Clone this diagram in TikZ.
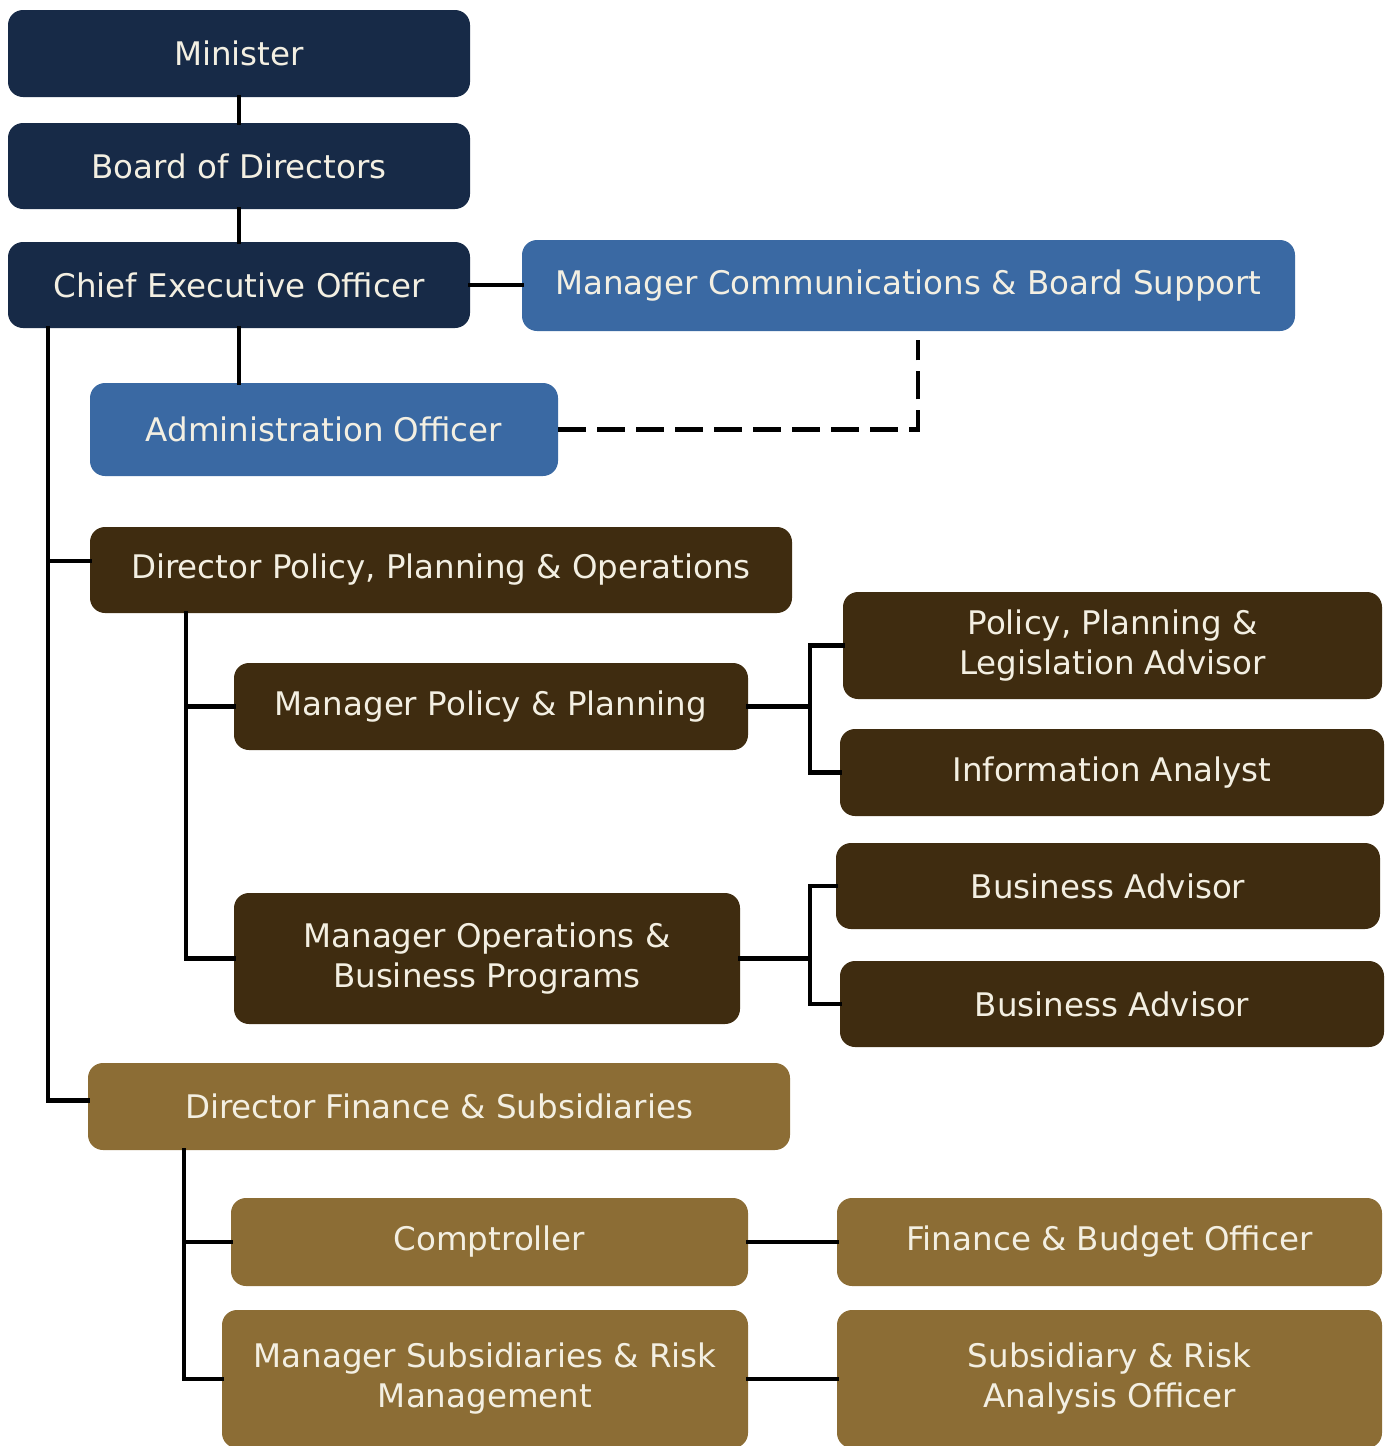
\documentclass[tikz,border=0pt]{standalone}
\usepackage{fontspec}
\setmainfont{DejaVu Sans}
\definecolor{navy}{HTML}{172A47}
\definecolor{bluebx}{HTML}{3A69A3}
\definecolor{brownbx}{HTML}{3F2C10}
\definecolor{goldbx}{HTML}{8C6D35}
\definecolor{txt}{HTML}{F3EFE2}
\begin{document}
\begin{tikzpicture}[x=1pt,y=-1pt,
  box/.style={rounded corners=15pt, draw=none, text=txt, align=center, inner sep=0pt,
    font=\fontsize{32.5}{40}\selectfont},
  conn/.style={line width=4.5pt, line cap=rect},
  dashconn/.style={line width=4.5pt, dash pattern=on 28pt off 11pt}]
\useasboundingbox (0,0) rectangle (1389,1446);
\node[box, fill=navy, minimum width=462pt, minimum height=87pt] (min) at (239,53.5) {Minister};
\node[box, fill=navy, minimum width=462pt, minimum height=86pt] (bod) at (239,166) {Board of Directors};
\node[box, fill=navy, minimum width=462pt, minimum height=86pt] (ceo) at (239,285) {Chief Executive Officer};
\node[box, fill=bluebx, minimum width=773pt, minimum height=91pt] (mcb) at (908.5,285.5) {Manager Communications \& Board Support};
\node[box, fill=bluebx, minimum width=468pt, minimum height=93pt] (adm) at (324,429.5) {Administration Officer};
\node[box, fill=brownbx, minimum width=702pt, minimum height=86pt] (dpp) at (441,570) {Director Policy, Planning \& Operations};
\node[box, fill=brownbx, minimum width=539pt, minimum height=107pt] (ppl) at (1112.5,645.5) {Policy, Planning \&\\Legislation Advisor};
\node[box, fill=brownbx, minimum width=514pt, minimum height=87pt] (mpp) at (491,706.5) {Manager Policy \& Planning};
\node[box, fill=brownbx, minimum width=544pt, minimum height=87pt] (ia) at (1112,772.5) {Information Analyst};
\node[box, fill=brownbx, minimum width=506pt, minimum height=131pt] (mob) at (487,958.5) {Manager Operations \&\\Business Programs};
\node[box, fill=brownbx, minimum width=544pt, minimum height=86pt] (ba1) at (1108,886) {Business Advisor};
\node[box, fill=brownbx, minimum width=544pt, minimum height=86pt] (ba2) at (1112,1004) {Business Advisor};
\node[box, fill=goldbx, minimum width=702pt, minimum height=87pt] (dfs) at (439,1106.5) {Director Finance \& Subsidiaries};
\node[box, fill=goldbx, minimum width=517pt, minimum height=88pt] (cmp) at (489.5,1242) {Comptroller};
\node[box, fill=goldbx, minimum width=545pt, minimum height=88pt] (fbo) at (1109.5,1242) {Finance \& Budget Officer};
\node[box, fill=goldbx, minimum width=526pt, minimum height=138pt] (msr) at (485,1379) {Manager Subsidiaries \& Risk\\Management};
\node[box, fill=goldbx, minimum width=545pt, minimum height=138pt] (sro) at (1109.5,1379) {Subsidiary \& Risk\\Analysis Officer};
% connectors
\draw[conn] (min.south) -- (bod.north);
\draw[conn] (bod.south) -- (ceo.north);
\draw[conn] (ceo.south) -- (ceo.south |- adm.north);
\draw[conn] (ceo.east) -- (ceo.east -| mcb.west);
\draw[dashconn] (adm.east) -| ([xshift=9.5pt,yshift=-9pt]mcb.south);
\draw[conn] ([xshift=40pt]ceo.south west) |- ([yshift=9pt]dpp.west);
\draw[conn] ([xshift=40pt]ceo.south west) |- ([yshift=6pt]dfs.west);
\draw[conn] ([xshift=96pt]dpp.south west) |- (mpp.west);
\draw[conn] ([xshift=96pt]dpp.south west) |- (mob.west);
\draw[conn] (mpp.east) -- ++(62,0) coordinate (j1);
\draw[conn] (j1) |- (ppl.west);
\draw[conn] (j1) |- (ia.west);
\draw[conn] (mob.east) -- ++(70,0) coordinate (j2);
\draw[conn] (j2) |- (ba1.west);
\draw[conn] (j2) |- (ba2.west);
\draw[conn] ([xshift=96pt]dfs.south west) |- (cmp.west);
\draw[conn] ([xshift=96pt]dfs.south west) |- (msr.west);
\draw[conn] (cmp.east) -- (fbo.west);
\draw[conn] (msr.east) -- (sro.west);
\end{tikzpicture}
\end{document}
